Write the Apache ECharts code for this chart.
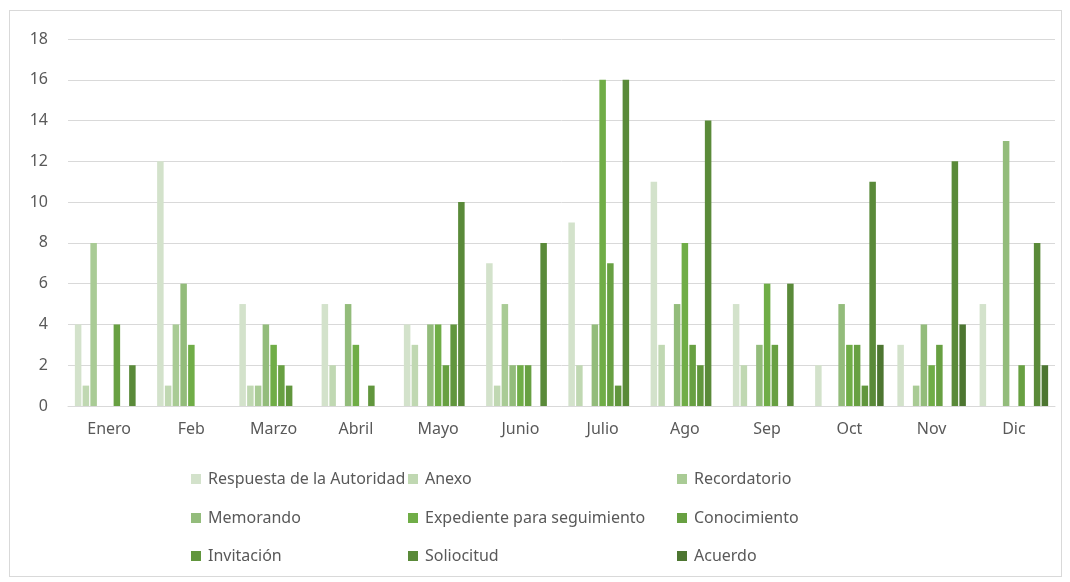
<!DOCTYPE html>
<html>
<head>
<meta charset="utf-8">
<script src="https://cdn.jsdelivr.net/npm/echarts@6/dist/echarts.min.js"></script>
<style>
html,body{margin:0;padding:0;background:#fff;}
#frame{position:absolute;left:9px;top:10px;width:1053px;height:567px;border:1px solid #d9d9d9;box-sizing:border-box;}
#chart{position:absolute;left:0;top:0;width:1070px;height:582px;}
</style>
</head>
<body>
<div id="frame"></div>
<div id="chart"></div>
<script>
const months = ['Enero','Feb','Marzo','Abril','Mayo','Junio','Julio','Ago','Sep','Oct','Nov','Dic'];
const seriesNames = ['Respuesta de la Autoridad','Anexo','Recordatorio','Memorando','Expediente para seguimiento','Conocimiento','Invitación','Soliocitud','Acuerdo'];
const respuesta    = [4,12,5,5,4,7,9,11,5,2,3,5];
const anexo        = [1,1,1,2,3,1,2,3,2,0,0,0];
const recordatorio = [8,4,1,0,0,5,0,0,0,0,1,0];
const memorando    = [0,6,4,5,4,2,4,5,3,5,4,13];
const expediente   = [0,3,3,3,4,2,16,8,6,3,2,0];
const conocimiento = [4,0,2,0,2,2,7,3,3,3,3,2];
const invitacion   = [0,0,1,1,4,0,1,2,0,1,0,0];
const soliocitud   = [2,0,0,0,10,8,16,14,6,11,12,8];
const acuerdo      = [0,0,0,0,0,0,0,0,0,3,4,2];
const yTicks = [0,2,4,6,8,10,12,14,16,18];

const values = [respuesta,anexo,recordatorio,memorando,expediente,conocimiento,invitacion,soliocitud,acuerdo];
const colors = ['#d3e2cb','#c0d8b2','#a9cb95','#93bc7b','#70ad47','#68a042','#61963d','#5a8a39','#4d7631'];

const chart = echarts.init(document.getElementById('chart'));
const font = '"Noto Sans", "Liberation Sans", Arial, sans-serif';
const legendLeft = [186,403,672];
const legendTop = [466,505,543];
const option = {
  animation:false,
  color: colors,
  grid:{left:68,right:15,top:39,bottom:176,containLabel:false},
  xAxis:{
    type:'category', data:months,
    axisLine:{show:true,lineStyle:{color:'#d9d9d9',width:1}},
    axisTick:{show:false},
    axisLabel:{color:'#595959',fontSize:16,fontFamily:font,margin:15}
  },
  yAxis:{
    type:'value', min:0, max:18, interval:2,
    axisLine:{show:false}, axisTick:{show:false},
    splitLine:{lineStyle:{color:'#d9d9d9',width:1}},
    axisLabel:{color:'#595959',fontSize:16,fontFamily:font,margin:20,
      formatter:v=>String(yTicks[yTicks.indexOf(v)])}
  },
  legend: seriesNames.map((n,i)=>({
    left:legendLeft[i%3], top:legendTop[Math.floor(i/3)],
    itemWidth:10, itemHeight:10, itemGap:0,
    icon:'rect',
    textStyle:{color:'#595959',fontSize:16,fontFamily:font,padding:[0,0,0,2]},
    data:[n]
  })),
  series: seriesNames.map((n,i)=>({
    name:n, type:'bar', data:values[i],
    barGap:'19%', barCategoryGap:'16.7%',
    itemStyle:{color:colors[i]}
  }))
};
chart.setOption(option);
</script>
</body>
</html>
